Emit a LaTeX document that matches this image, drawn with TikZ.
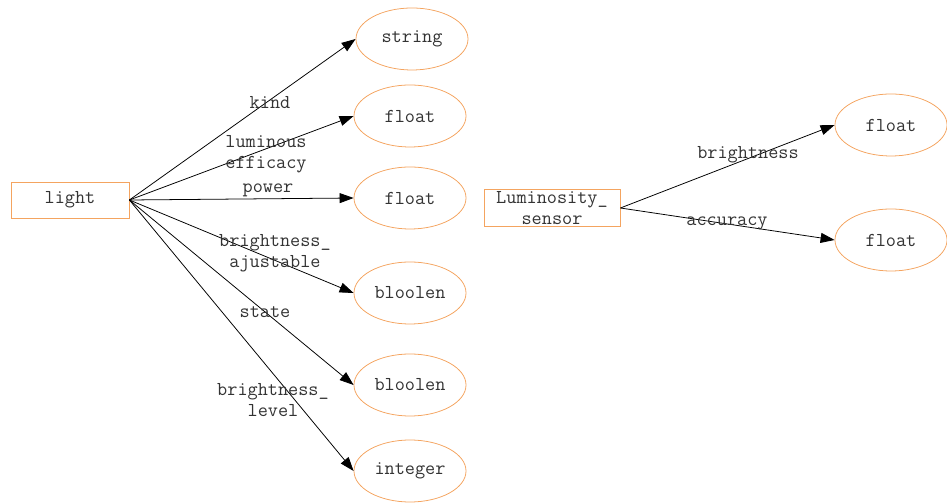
\documentclass[tikz,border=0pt]{standalone}
\usetikzlibrary{arrows.meta,shapes.geometric}
\definecolor{sandy}{HTML}{F4A460}

\begin{document}
\begin{tikzpicture}[x=0.025cm,y=-0.025cm,font=\ttfamily\fontsize{14}{15}\selectfont,
  line width=0.55pt,text=black!80,
  attr/.style={ellipse,draw=sandy,minimum width=2.8cm,minimum height=1.55cm,inner sep=0pt},
  ent/.style={rectangle,draw=sandy,align=center,inner sep=0pt},
  lbl/.style={align=center,inner sep=0pt},
  rel/.style={-{Triangle[length=0.35cm,width=0.25cm]},black}]
\useasboundingbox (0,0) rectangle (947,503);
% entities
\node[ent,minimum width=2.95cm,minimum height=0.9cm] (light) at (70,200) {light};
\node[ent,minimum width=3.4cm,minimum height=0.925cm] (sensor) at (552,208) {Luminosity\_\\sensor};
% attributes of light
\node[attr] (kind) at (412,39) {string};
\node[attr] (eff) at (410,116) {float};
\node[attr] (pow) at (410,198) {float};
\node[attr] (adj) at (410,293) {bloolen};
\node[attr] (state) at (410,385) {bloolen};
\node[attr] (lvl) at (410,471) {integer};
% attributes of sensor
\node[attr] (bright) at (891,125) {float};
\node[attr] (acc) at (891,240) {float};
% relations
\draw[rel] (light.east) -- (kind.west);
\draw[rel] (light.east) -- (eff.west);
\draw[rel] (light.east) -- (pow.west);
\draw[rel] (light.east) -- (adj.west);
\draw[rel] (light.east) -- (state.west);
\draw[rel] (light.east) -- (lvl.west);
\draw[rel] (sensor.east) -- (bright.west);
\draw[rel] (sensor.east) -- (acc.west);
% labels
\node[lbl] (lkind) at (270,103) {kind};
\node[lbl] (leff) at (266,154) {luminous\\efficacy};
\node[lbl] (lpow) at (268,190) {power};
\node[lbl] (ladj) at (275,253) {brightness\_\\ajustable};
\node[lbl] (lstate) at (265,312) {state};
\node[lbl] (llvl) at (273,400) {brightness\_\\level};
\node[lbl] (lbright) at (748,155) {brightness};
\node[lbl] (lacc) at (727,223) {accuracy};
\end{tikzpicture}
\end{document}
